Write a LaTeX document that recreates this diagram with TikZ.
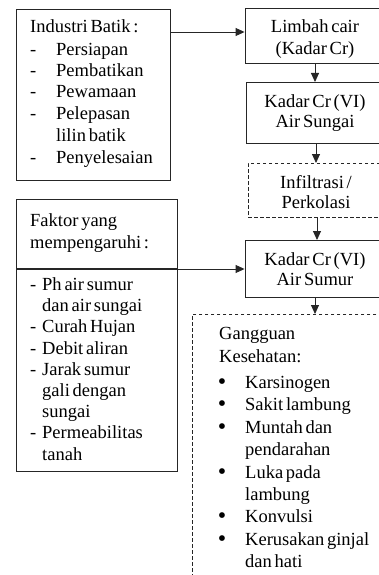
\documentclass[tikz,border=0pt]{standalone}
\usepackage{fontspec}
\setmainfont{Liberation Serif}[WordSpace={0.6}]
\usetikzlibrary{arrows.meta}
\begin{document}
\begin{tikzpicture}[x=1pt,y=-1pt,
  box/.style={draw=black!85, line width=0.9pt, rectangle, inner sep=0pt, anchor=north west},
  dbox/.style={draw=black!85, line width=0.8pt, dash pattern=on 3.5pt off 2.5pt, rectangle, inner sep=0pt, anchor=north west},
  txt/.style={anchor=base west, inner sep=0pt, font=\fontsize{18.5}{22}\selectfont},
  ctxt/.style={anchor=base, inner sep=0pt, font=\fontsize{18.5}{22}\selectfont},
  bul/.style={anchor=base, inner sep=0pt, font=\fontsize{24}{24}\selectfont},
  arr/.style={draw=black!85, line width=0.9pt, -{Triangle[length=9pt,width=8pt]}}]
\useasboundingbox (0,0) rectangle (379,575);

% left boxes
\node[box, minimum width=154pt, minimum height=171pt] (b1) at (16,9) {};
\node[box, minimum width=161pt, minimum height=272pt] (b2) at (16,199) {};

% right boxes
\node[box, minimum width=140pt, minimum height=55pt, anchor=north] (limbah) at (315,8) {};
\node[box, minimum width=140pt, minimum height=61pt, anchor=north] (sungai) at (316,82) {};
\node[dbox, minimum width=138pt, minimum height=54pt, anchor=north] (infil) at (317,163) {};
\node[box, minimum width=140pt, minimum height=57pt, anchor=north] (sumur) at (315,240) {};
\node[dbox, minimum width=200pt, minimum height=300pt] (gang) at (192,314) {};

% box 1 text
\node[txt] (t1a) at (30,33) {Industri Batik :};
\foreach \y/\t [count=\i] in {56/Persiapan,77/Pembatikan,98/Pewamaan,120/Pelepasan,163/Penyelesaian}{
  \node[txt] (d1-\i) at (30,\y) {-};
  \node[txt] (l1-\i) at (56,\y) {\t};
}
\node[txt] (l1-x) at (56,141) {lilin batik};

% box 2 text
\node[txt] (t2a) at (30,226) {Faktor yang};
\node[txt] (t2b) at (30,248) {mempengaruhi :};
\foreach \y/\t [count=\i] in {290/Ph air sumur,332/Curah Hujan,354/Debit aliran,375/Jarak sumur,438/Permeabilitas}{
  \node[txt] (d2-\i) at (30,\y) {-};
}
\foreach \y/\t [count=\i] in {290/Ph air sumur,311/dan air sungai,332/Curah Hujan,354/Debit aliran,375/Jarak sumur,396/gali dengan,417/sungai,438/Permeabilitas,460/tanah}{
  \node[txt] (l2-\i) at (42,\y) {\t};
}

% right box texts
\node[ctxt] (r1a) at (315,33) {Limbah cair};
\node[ctxt] (r1b) at (315,55) {(Kadar Cr)};
\node[ctxt] (r2a) at (315,107) {Kadar Cr (VI)};
\node[ctxt] (r2b) at (315,128) {Air Sungai};
\node[ctxt] (r3a) at (316,188) {Infiltrasi /};
\node[ctxt] (r3b) at (316,208) {Perkolasi};
\node[ctxt] (r4a) at (315,265) {Kadar Cr (VI)};
\node[ctxt] (r4b) at (315,285) {Air Sumur};

% Gangguan text
\node[txt] (g1) at (219,339) {Gangguan};
\node[txt] (g2) at (219,362) {Kesehatan:};
\foreach \y/\t [count=\i] in {388/Karsinogen,410/Sakit lambung,433/Muntah dan,478/Luka pada,522/Konvulsi,545/Kerusakan ginjal}{
  \node[bul] (bu-\i) at (222,\y+1) {\textbullet};
}
\foreach \y/\t [count=\i] in {388/Karsinogen,410/Sakit lambung,433/Muntah dan,455/pendarahan,478/Luka pada,500/lambung,522/Konvulsi,545/Kerusakan ginjal,567/dan hati}{
  \node[txt] (g-\i) at (245,\y) {\t};
}

% connectors
\coordinate (c1) at (170,32);
\draw[arr] (c1) -- (c1 -| limbah.west);
\draw[arr] (limbah.south) -- (limbah.south |- sungai.north);
\draw[arr] (sungai.south) -- (sungai.south |- infil.north);
\draw[arr] (infil.south) -- (infil.south |- sumur.north);
\draw[arr] (sumur.south) -- (sumur.south |- gang.north);
\coordinate (c2) at (16,269);
\draw[line width=1.1pt, black!85] (c2) -- (c2 -| b2.east);
\draw[arr] (c2) -- (c2 -| sumur.west);
\end{tikzpicture}
\end{document}
